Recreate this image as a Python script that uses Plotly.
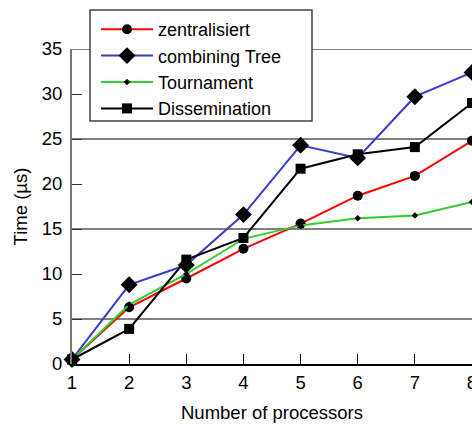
import plotly.graph_objects as go

processors = [1, 2, 3, 4, 5, 6, 7, 8]
zentralisiert = [0.5, 6.3, 9.5, 12.8, 15.6, 18.7, 20.9, 24.8]
combining_tree = [0.5, 8.8, 11.0, 16.6, 24.3, 22.9, 29.7, 32.4]
tournament = [0.5, 6.6, 10.0, 13.9, 15.4, 16.2, 16.5, 18.0]
dissemination = [0.5, 3.9, 11.6, 14.0, 21.7, 23.3, 24.1, 29.0]
y_ticks = [0, 5, 10, 15, 20, 25, 30, 35]
grid_values = [5, 15, 25, 35]

FONT = "Liberation Sans, Arial, sans-serif"
FS = 18.5

series = [
    ("zentralisiert", zentralisiert, "#ff0000", "circle", 10),
    ("combining Tree", combining_tree, "#3b3bcc", "diamond", 13),
    ("Tournament", tournament, "#33cc33", "diamond", 5),
    ("Dissemination", dissemination, "#000000", "square", 10),
]

fig = go.Figure()
for i, (name, vals, color, sym, size) in enumerate(series):
    fig.add_trace(go.Scatter(
        x=processors, y=vals, name=name, mode="lines+markers",
        line=dict(color=color, width=2),
        marker=dict(color="black", symbol=sym, size=size),
        cliponaxis=False,
    ))

W, H = 472, 425
L, T = 72, 49
pw, ph = 400, 315
R = W - L - pw
B = H - T - ph

def px(x):
    return (x - L) / pw
def py(y):
    return (T + ph - y) / ph

shapes = []
for g in grid_values:
    shapes.append(dict(type="line", xref="paper", yref="y", x0=0, x1=1, y0=g, y1=g,
                       line=dict(color="black", width=1), layer="below"))
shapes.append(dict(type="rect", xref="paper", yref="paper",
                   x0=px(90), x1=px(312), y0=py(10), y1=py(121),
                   fillcolor="white", line=dict(color="#444444", width=1.5), layer="above"))

fig.update_layout(
    width=W, height=H,
    margin=dict(l=L, r=R, t=T, b=B, autoexpand=False),
    paper_bgcolor="white", plot_bgcolor="white",
    font=dict(family=FONT, size=FS, color="black"),
    showlegend=True,
    legend=dict(x=px(96), y=py(11), xanchor="left", yanchor="top",
                bgcolor="rgba(0,0,0,0)", borderwidth=0,
                font=dict(family=FONT, size=18), itemwidth=52),
    shapes=shapes,
    xaxis=dict(range=[1, 8], tickvals=processors, ticks="inside", ticklen=10,
               tickcolor="black", showline=True, linecolor="black", linewidth=1.5,
               showgrid=False, zeroline=False, ticklabelstandoff=1, automargin=False,
               ticklabeloverflow="allow",
               title=dict(text="Number of processors", standoff=14,
                          font=dict(family=FONT, size=FS))),
    yaxis=dict(range=[0, 35], tickvals=y_ticks, ticks="inside", ticklen=10,
               tickcolor="#333333", showline=True, linecolor="#777777", linewidth=2,
               showgrid=False, zeroline=False, ticklabelstandoff=4, automargin=False,
               ticklabeloverflow="allow",
               title=dict(text="Time (µs)", standoff=9,
                          font=dict(family=FONT, size=FS))),
)

fig.write_html("out.html", config={"displayModeBar": False},
               post_script="document.body.style.margin='0';document.body.style.overflow='hidden';")
